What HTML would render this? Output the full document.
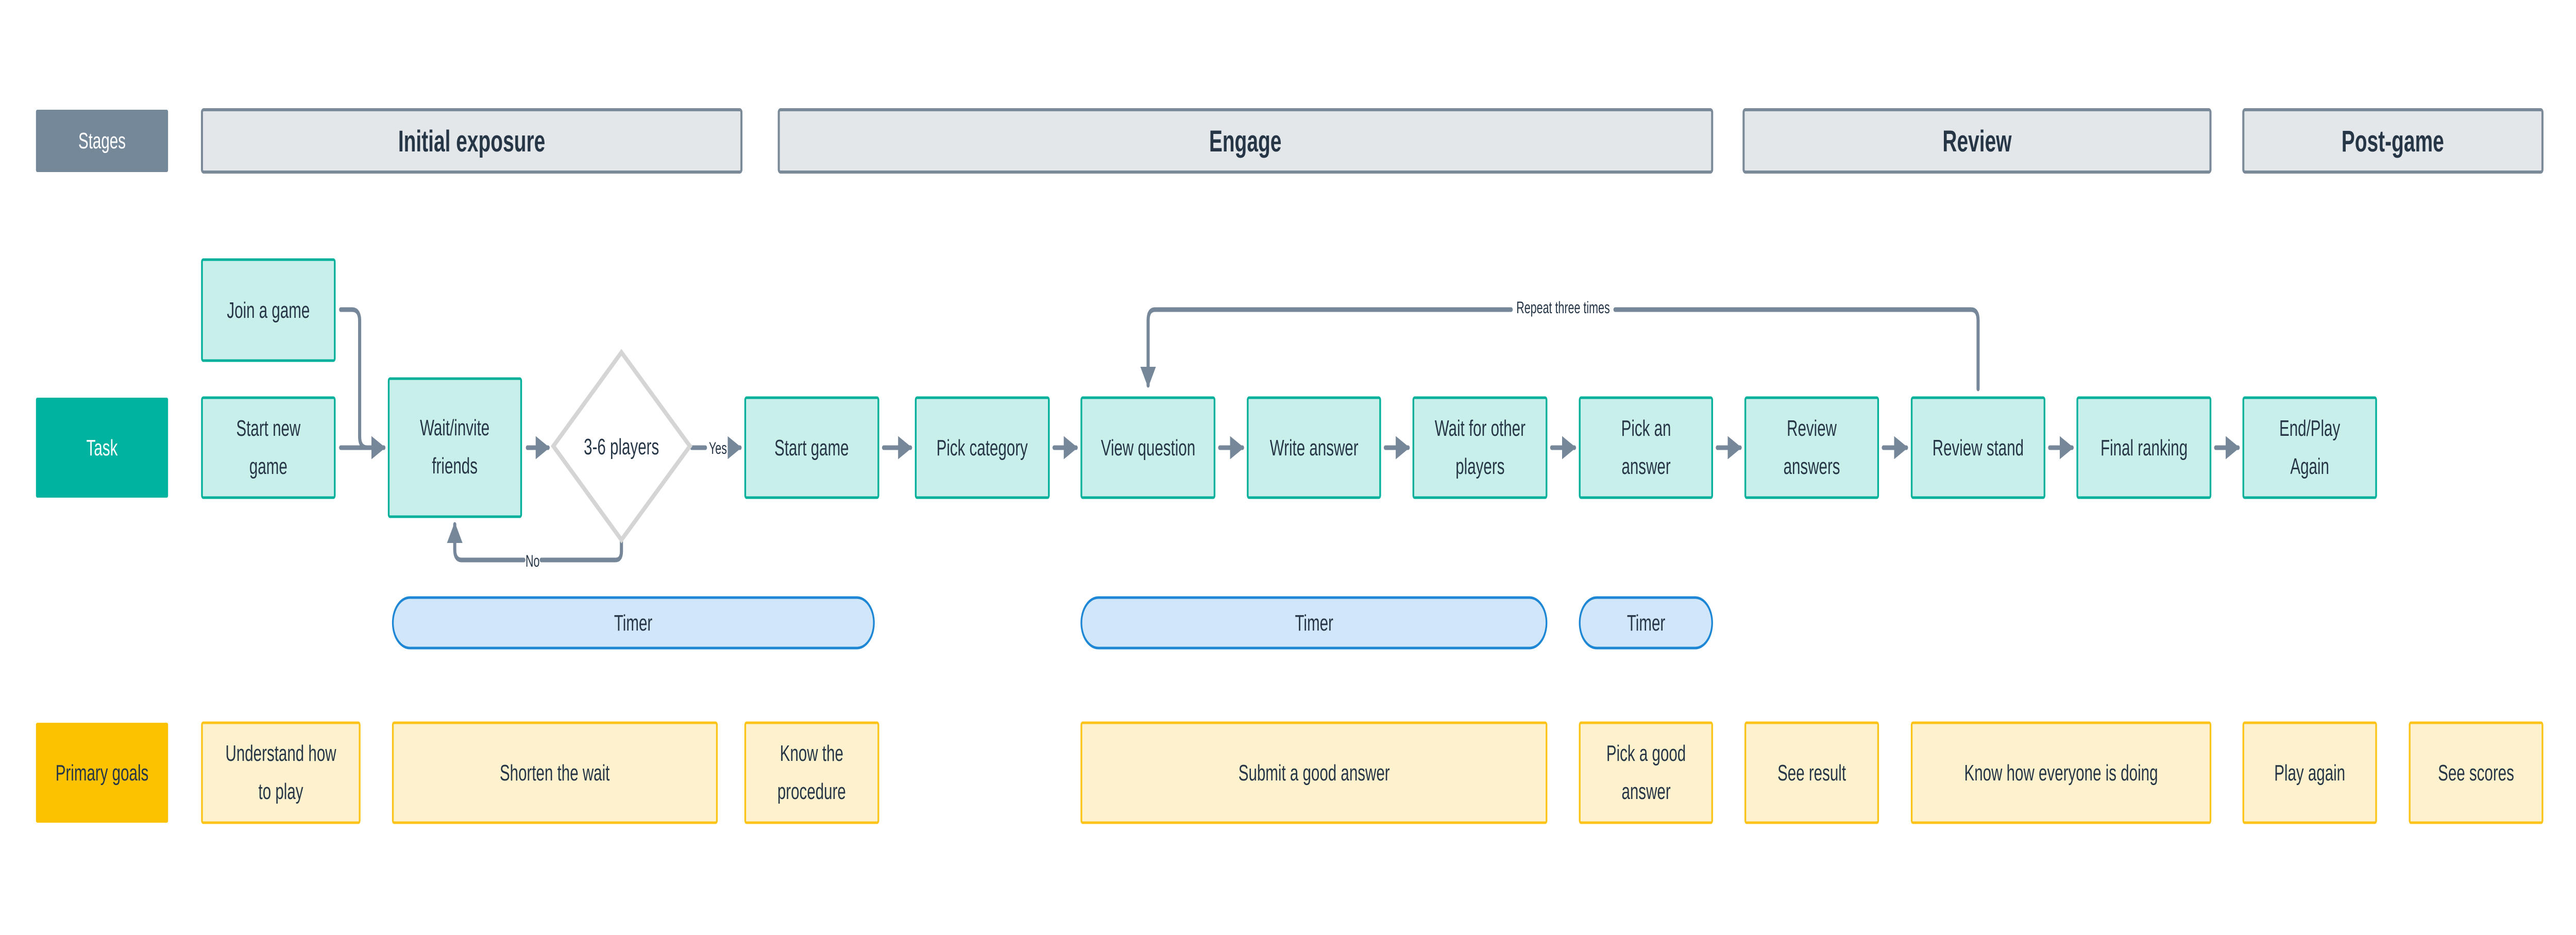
<!DOCTYPE html>
<html><head><meta charset="utf-8"><style>
html,body{margin:0;padding:0;background:#fff;overflow:hidden;width:100%;height:100%}
svg{display:block;width:100vw;height:100vh}
text{font-family:"Liberation Sans",sans-serif;fill:#263646;text-anchor:middle}
.t{font-size:44px}
.h{font-size:58px;font-weight:bold}
.s{font-size:32px}
</style></head><body>
<svg viewBox="0 0 7449 1815" preserveAspectRatio="none" xmlns="http://www.w3.org/2000/svg">
<defs>
<marker id="a" markerWidth="5" markerHeight="5" refX="4" refY="2.5" orient="auto" markerUnits="strokeWidth"><path d="M0,0 L4.5,2.5 L0,5 z" fill="#76879a"/></marker>
</defs>
<rect x="104" y="213" width="382" height="121" rx="4" fill="#74889a"/>
<text x="295" y="288" class="t" style="fill:#fff">Stages</text>
<rect x="104" y="772" width="382" height="194" rx="4" fill="#00b3a0"/>
<text x="295" y="884" class="t" style="fill:#fff">Task</text>
<rect x="104" y="1403" width="382" height="194" rx="4" fill="#fcc200"/>
<text x="295" y="1515" class="t">Primary goals</text>
<g fill="#e3e7ea" stroke="#7b8a99" stroke-width="6">
<rect x="584" y="213" width="1560" height="121" rx="5"/>
<rect x="2252" y="213" width="2699" height="121" rx="5"/>
<rect x="5042" y="213" width="1350" height="121" rx="5"/>
<rect x="6487" y="213" width="865" height="121" rx="5"/>
</g>
<text x="1364" y="294" class="h">Initial exposure</text>
<text x="3601" y="294" class="h">Engage</text>
<text x="5717" y="294" class="h">Review</text>
<text x="6919" y="294" class="h">Post-game</text>
<g fill="none" stroke="#76879a" stroke-width="9" stroke-linecap="round">
<path d="M985,601 H1018 Q1040,601 1040,623 V847 Q1040,869 1062,869 H1110" marker-end="url(#a)"/>
<path d="M985,869 H1110" marker-end="url(#a)"/>
<path d="M1525,869 H1585" marker-end="url(#a)"/>
<path d="M2000,869 H2040 M2110,869 H2140" marker-end="url(#a)"/>
<path d="M1797,1050 V1070 Q1797,1087 1780,1087 H1565 M1515,1087 H1335 Q1315,1087 1315,1067 V1018" marker-end="url(#a)"/>
<path d="M2555,869 H2633" marker-end="url(#a)"/>
<path d="M3048,869 H3112" marker-end="url(#a)"/>
<path d="M3527,869 H3593" marker-end="url(#a)"/>
<path d="M4006,869 H4072" marker-end="url(#a)"/>
<path d="M4487,869 H4553" marker-end="url(#a)"/>
<path d="M4966,869 H5032" marker-end="url(#a)"/>
<path d="M5446,869 H5513" marker-end="url(#a)"/>
<path d="M5927,869 H5992" marker-end="url(#a)"/>
<path d="M6407,869 H6472" marker-end="url(#a)"/>
<path d="M5720,755 V622 Q5720,601 5700,601 H4670 M4370,601 H3340 Q3320,601 3320,622 V748" marker-end="url(#a)"/>
</g>
<text x="1540" y="1100" class="s">No</text>
<text x="2076" y="881" class="s">Yes</text>
<text x="4520" y="608" class="s">Repeat three times</text>
<path d="M1797,684 L1995,866 L1797,1048 L1600,866 z" fill="#fff" stroke="#d5d5d5" stroke-width="10"/>
<text x="1797" y="882" class="t">3-6 players</text>
<g fill="#c8efe9" stroke="#00b09b" stroke-width="5">
<rect x="584" y="504" width="384" height="196" rx="4"/>
<rect x="584" y="772" width="384" height="194" rx="4"/>
<rect x="1124" y="735" width="383" height="268" rx="4"/>
<rect x="2155" y="772" width="385" height="194" rx="4"/>
<rect x="2648" y="772" width="385" height="194" rx="4"/>
<rect x="3127" y="772" width="385" height="194" rx="4"/>
<rect x="3608" y="772" width="383" height="194" rx="4"/>
<rect x="4087" y="772" width="385" height="194" rx="4"/>
<rect x="4568" y="772" width="383" height="194" rx="4"/>
<rect x="5047" y="772" width="384" height="194" rx="4"/>
<rect x="5528" y="772" width="384" height="194" rx="4"/>
<rect x="6007" y="772" width="385" height="194" rx="4"/>
<rect x="6487" y="772" width="384" height="194" rx="4"/>
</g>
<text x="776" y="617" class="t">Join a game</text>
<text x="776" y="846" class="t">Start new</text><text x="776" y="920" class="t">game</text>
<text x="1315" y="845" class="t">Wait/invite</text><text x="1315" y="919" class="t">friends</text>
<text x="2347" y="884" class="t">Start game</text>
<text x="2840" y="884" class="t">Pick category</text>
<text x="3320" y="884" class="t">View question</text>
<text x="3800" y="884" class="t">Write answer</text>
<text x="4280" y="846" class="t">Wait for other</text><text x="4280" y="920" class="t">players</text>
<text x="4760" y="846" class="t">Pick an</text><text x="4760" y="920" class="t">answer</text>
<text x="5239" y="846" class="t">Review</text><text x="5239" y="920" class="t">answers</text>
<text x="5720" y="884" class="t">Review stand</text>
<text x="6200" y="884" class="t">Final ranking</text>
<text x="6679" y="846" class="t">End/Play</text><text x="6679" y="920" class="t">Again</text>
<g fill="#d1e6f8" stroke="#1d87d6" stroke-width="5">
<rect x="1136" y="1160" width="1391" height="98" rx="49"/>
<rect x="3127" y="1160" width="1345" height="98" rx="49"/>
<rect x="4568" y="1160" width="383" height="98" rx="49"/>
</g>
<text x="1831" y="1224" class="t">Timer</text>
<text x="3800" y="1224" class="t">Timer</text>
<text x="4760" y="1224" class="t">Timer</text>
<g fill="#fdf2cd" stroke="#fcc419" stroke-width="5">
<rect x="584" y="1403" width="456" height="194" rx="4"/>
<rect x="1136" y="1403" width="937" height="194" rx="4"/>
<rect x="2155" y="1403" width="385" height="194" rx="4"/>
<rect x="3127" y="1403" width="1345" height="194" rx="4"/>
<rect x="4568" y="1403" width="383" height="194" rx="4"/>
<rect x="5047" y="1403" width="384" height="194" rx="4"/>
<rect x="5528" y="1403" width="864" height="194" rx="4"/>
<rect x="6487" y="1403" width="384" height="194" rx="4"/>
<rect x="6968" y="1403" width="384" height="194" rx="4"/>
</g>
<text x="812" y="1477" class="t">Understand how</text><text x="812" y="1551" class="t">to play</text>
<text x="1604" y="1515" class="t">Shorten the wait</text>
<text x="2347" y="1477" class="t">Know the</text><text x="2347" y="1551" class="t">procedure</text>
<text x="3800" y="1515" class="t">Submit a good answer</text>
<text x="4760" y="1477" class="t">Pick a good</text><text x="4760" y="1551" class="t">answer</text>
<text x="5239" y="1515" class="t">See result</text>
<text x="5960" y="1515" class="t">Know how everyone is doing</text>
<text x="6679" y="1515" class="t">Play again</text>
<text x="7160" y="1515" class="t">See scores</text>
</svg>
</body></html>
